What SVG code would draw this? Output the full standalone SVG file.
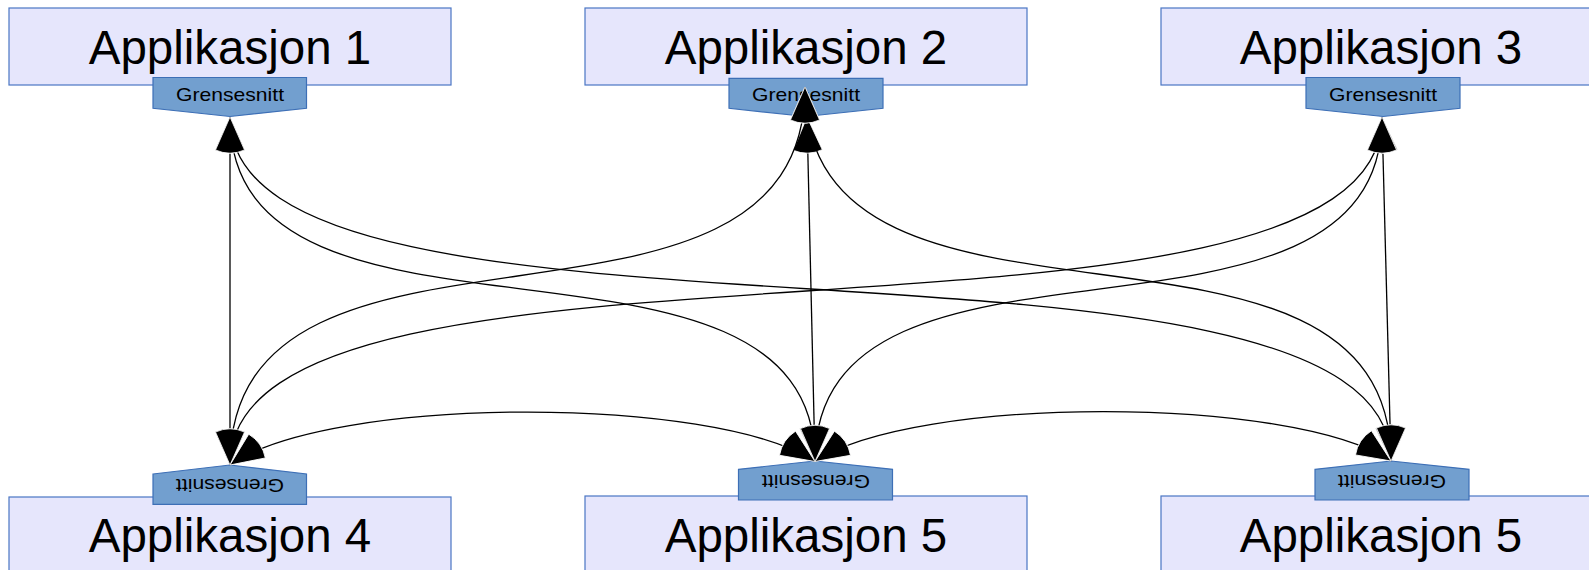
<svg xmlns="http://www.w3.org/2000/svg" width="1589" height="570" viewBox="0 0 1589 570">
<style>
.box{fill:#e6e6fc;stroke:#4a76c4;stroke-width:1.2}
.iface{fill:#729fcf;stroke:#3d6fb6;stroke-width:1.2}
.title{font-family:"Liberation Sans",Arial,sans-serif;font-size:47.5px;fill:#000;text-anchor:middle}
.lbl{font-family:"Liberation Sans",Arial,sans-serif;font-size:19px;fill:#000;text-anchor:middle}
.conn{fill:none;stroke:#000;stroke-width:1.3;marker-start:url(#arr);marker-end:url(#arr)}
</style>
<defs>
<marker id="arr" markerUnits="userSpaceOnUse" markerWidth="80" markerHeight="80" viewBox="-40 -40 80 80" refX="0" refY="0" orient="auto-start-reverse" overflow="visible">
<path d="M0,0 L-33,-14.5 A36,36 0 0 0 -33,14.5 Z" fill="#000" stroke="#fff" stroke-width="0.8" stroke-linejoin="miter"/>
</marker>
</defs>

<g id="app1">
<rect class="box" x="9" y="8" width="442" height="77"/>
<text class="title" x="230" y="64">Applikasjon 1</text>
</g>
<g id="app2">
<rect class="box" x="585" y="8" width="442" height="77"/>
<text class="title" x="806" y="64">Applikasjon 2</text>
</g>
<g id="app3">
<rect class="box" x="1161" y="8" width="442" height="77"/>
<text class="title" x="1381" y="64">Applikasjon 3</text>
</g>
<g id="app4">
<rect class="box" x="9" y="497" width="442" height="90"/>
<text class="title" x="230" y="552">Applikasjon 4</text>
</g>
<g id="app5">
<rect class="box" x="585" y="496" width="442" height="90"/>
<text class="title" x="806" y="552">Applikasjon 5</text>
</g>
<g id="app6">
<rect class="box" x="1161" y="496" width="442" height="90"/>
<text class="title" x="1381" y="552">Applikasjon 5</text>
</g>

<g id="if1">
<path class="iface" d="M153,77.5 H306.5 V108.3 L230,116.5 L153,108.3 Z"/>
<text class="lbl" x="230" y="100.5" textLength="108" lengthAdjust="spacingAndGlyphs">Grensesnitt</text>
</g>
<g id="if2">
<path class="iface" d="M729,78.3 H883 V108.3 L806,116.5 L729,108.3 Z"/>
<text class="lbl" x="806" y="100.7" textLength="108" lengthAdjust="spacingAndGlyphs">Grensesnitt</text>
</g>
<g id="if3">
<path class="iface" d="M1306,77.5 H1460 V108.3 L1383,116.5 L1306,108.3 Z"/>
<text class="lbl" x="1383" y="100.5" textLength="108" lengthAdjust="spacingAndGlyphs">Grensesnitt</text>
</g>
<g id="if4">
<path class="iface" d="M153,474 L230,465 L306.5,474 V504.3 H153 Z"/>
<text class="lbl" transform="translate(230,479) rotate(180)" x="0" y="0" textLength="108" lengthAdjust="spacingAndGlyphs">Grensesnitt</text>
</g>
<g id="if5">
<path class="iface" d="M738.5,469.3 L815,461 L892.5,469.3 V500 H738.5 Z"/>
<text class="lbl" transform="translate(816,474.5) rotate(180)" x="0" y="0" textLength="108" lengthAdjust="spacingAndGlyphs">Grensesnitt</text>
</g>
<g id="if6">
<path class="iface" d="M1315,469.3 L1391,461 L1469,469.3 V500 H1315 Z"/>
<text class="lbl" transform="translate(1392,474.5) rotate(180)" x="0" y="0" textLength="108" lengthAdjust="spacingAndGlyphs">Grensesnitt</text>
</g>

<g id="connectors">
<path class="conn" d="M230,117 L230,465"/>
<path class="conn" d="M807,117 L815,461.5"/>
<path class="conn" d="M1382,117 L1391,461"/>
<path class="conn" d="M230,117 C230,387 815,191 815,461.5"/>
<path class="conn" d="M230,117 C230,387 1391,191 1391,461"/>
<path class="conn" d="M805,87 C805,382 230,170 230,465"/>
<path class="conn" d="M805,87 C805,382 1391,166 1391,461"/>
<path class="conn" d="M1382,117 C1382,389 230,193 230,465"/>
<path class="conn" d="M1382,117 C1382,387 815,191 815,461.5"/>
<path class="conn" d="M230,465 C330,395 715,395 815,461.5"/>
<path class="conn" d="M815,461.5 C915,395 1291,395 1391,461"/>
</g>
</svg>
